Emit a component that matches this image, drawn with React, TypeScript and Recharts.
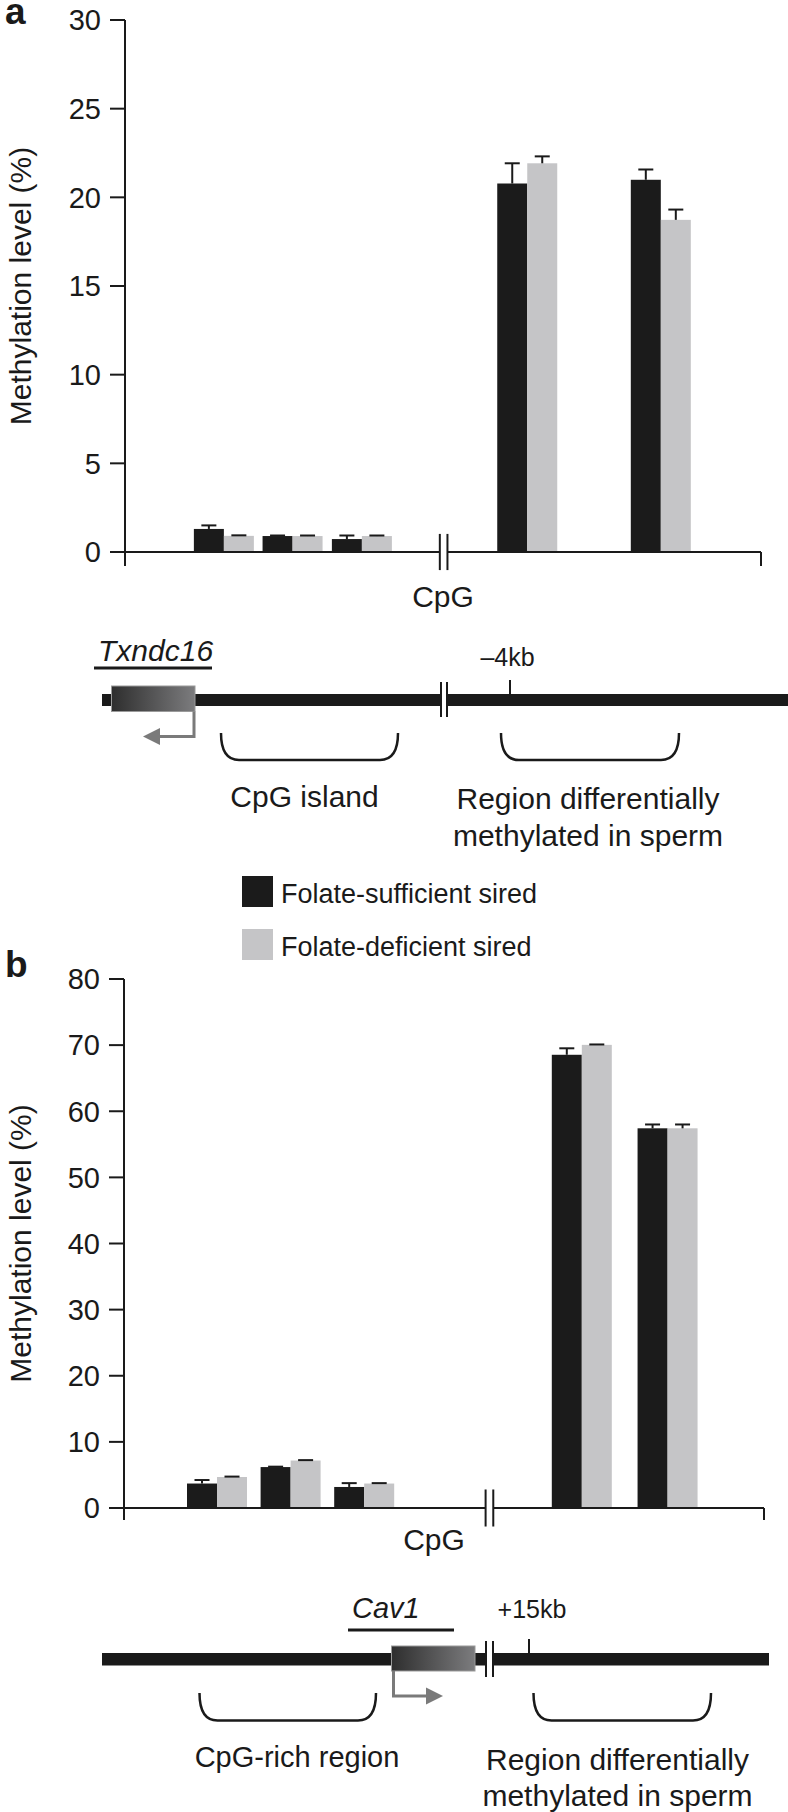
import React from 'react';
import { BarChart, Bar, XAxis, YAxis, ReferenceLine, Label } from 'recharts';

// ---------- series ----------
const seriesNames = ['Folate-sufficient sired', 'Folate-deficient sired'];
const seriesColors = ['#1b1b1b', '#c5c5c7'];
const yAxisTitle = 'Methylation level (%)';
const xAxisTitle = 'CpG';

// ---------- panel a : Txndc16 ----------
const aSites = ['CpG 1', 'CpG 2', 'CpG 3', 'CpG 4', 'CpG 5'];
const aSitePos = [15.6, 26.4, 37.3, 63.3, 84.3];
const aSufficient = [1.3, 0.9, 0.73, 20.78, 20.99];
const aSufficientErr = [0.2, 0.03, 0.2, 1.14, 0.58];
const aDeficient = [0.91, 0.9, 0.9, 21.92, 18.73];
const aDeficientErr = [0.03, 0.03, 0.03, 0.39, 0.58];
const aYTicks = [0, 5, 10, 15, 20, 25, 30];
const aBreak = [49.5, 50.7];

// ---------- panel b : Cav1 ----------
const bSites = ['CpG 1', 'CpG 2', 'CpG 3', 'CpG 4', 'CpG 5'];
const bSitePos = [14.5, 26.0, 37.5, 71.5, 84.9];
const bSufficient = [3.7, 6.19, 3.18, 68.54, 57.42];
const bSufficientErr = [0.53, 0.06, 0.58, 0.98, 0.58];
const bDeficient = [4.69, 7.18, 3.7, 70.04, 57.42];
const bDeficientErr = [0.06, 0.06, 0.06, 0.06, 0.58];
const bYTicks = [0, 10, 20, 30, 40, 50, 60, 70, 80];
const bBreak = [56.5, 57.7];

const INK = '#1a1a1a';
const FONT = '"Liberation Sans", Arial, Helvetica, sans-serif';

const buildRows = (sites: string[], pos: number[], s: number[], se: number[], d: number[], de: number[]) =>
  sites.map((site, i) => ({ site, pos: pos[i], suff: s[i], suffErr: se[i], def: d[i], defErr: de[i] }));

const aData = buildRows(aSites, aSitePos, aSufficient, aSufficientErr, aDeficient, aDeficientErr);
const bData = buildRows(bSites, bSitePos, bSufficient, bSufficientErr, bDeficient, bDeficientErr);

const makeShape = (valKey: string, errKey: string) => (props: any) => {
  const { x, y, width, height, fill, payload } = props;
  const val = payload[valKey];
  const err = payload[errKey];
  const pxPerUnit = val ? height / val : 0;
  const top = y - err * pxPerUnit;
  const cx = x + width / 2;
  return (
    <g>
      <rect x={x} y={y} width={width} height={height} fill={fill} />
      <line x1={cx} y1={y} x2={cx} y2={top} stroke={INK} strokeWidth={2} />
      <line x1={cx - 7.5} y1={top} x2={cx + 7.5} y2={top} stroke={INK} strokeWidth={2} />
    </g>
  );
};

const xLabel = (dx: number, dy: number) => (props: any) => {
  const vb = props.viewBox || {};
  return (
    <text x={vb.x + vb.width / 2 + dx} y={vb.y + dy} textAnchor="middle" fontSize={30} fill={INK}
      style={{ fontFamily: FONT, fontSize: 30 }}>
      {xAxisTitle}
    </text>
  );
};

type PanelProps = {
  data: any[];
  yMax: number;
  yTicks: number[];
  brk: number[];
  brkH: number;
  top: number;
  margin: any;
  yWidth: number;
  lblDx: number;
  lblDy: number;
  tickSize: number;
};

const Panel = ({ data, yMax, yTicks, brk, brkH, top, margin, yWidth, lblDx, lblDy, tickSize }: PanelProps) => (
  <div style={{ position: 'absolute', left: 0, top }}>
    <BarChart width={788} height={620} data={data} margin={margin} barGap={0} style={{ fontFamily: FONT }}>
      <XAxis
        dataKey="pos"
        type="number"
        domain={[0, 100]}
        allowDataOverflow
        ticks={[0, 100]}
        interval={0}
        tickFormatter={() => ''}
        axisLine={false}
        tickLine={{ stroke: INK, strokeWidth: 2 }}
        tickSize={tickSize}
        height={50}
      >
        <Label content={xLabel(lblDx, lblDy)} />
      </XAxis>
      <YAxis
        type="number"
        domain={[0, yMax]}
        ticks={yTicks}
        interval={0}
        width={yWidth}
        axisLine={{ stroke: INK, strokeWidth: 2 }}
        tickLine={{ stroke: INK, strokeWidth: 2 }}
        tickSize={15}
        tickMargin={9}
        tick={{ fontSize: 29, fill: INK, fontFamily: FONT }}
      />
      <Bar dataKey="suff" name={seriesNames[0]} fill={seriesColors[0]} barSize={30} isAnimationActive={false}
        shape={makeShape('suff', 'suffErr')} />
      <Bar dataKey="def" name={seriesNames[1]} fill={seriesColors[1]} barSize={30} isAnimationActive={false}
        shape={makeShape('def', 'defErr')} />
      <ReferenceLine segment={[{ x: 0, y: 0 }, { x: brk[0], y: 0 }]} stroke={INK} strokeWidth={2} ifOverflow="visible" />
      <ReferenceLine segment={[{ x: brk[1], y: 0 }, { x: 100, y: 0 }]} stroke={INK} strokeWidth={2} ifOverflow="visible" />
      <ReferenceLine segment={[{ x: brk[0], y: -brkH }, { x: brk[0], y: brkH }]} stroke={INK} strokeWidth={2} ifOverflow="visible" />
      <ReferenceLine segment={[{ x: brk[1], y: -brkH }, { x: brk[1], y: brkH }]} stroke={INK} strokeWidth={2} ifOverflow="visible" />
    </BarChart>
  </div>
);

const Bracket = ({ x1, x2, y1, y2 }: { x1: number; x2: number; y1: number; y2: number }) => (
  <path d={`M${x1},${y1} Q${x1},${y2} ${x1 + 18},${y2} H${x2 - 18} Q${x2},${y2} ${x2},${y1}`}
    fill="none" stroke={INK} strokeWidth={2.5} />
);

const VTitle = ({ cx, cy }: { cx: number; cy: number }) => (
  <text x={cx} y={cy} transform={`rotate(-90 ${cx} ${cy})`} textAnchor="middle" dominantBaseline="central"
    fontSize={30} fill={INK}>
    {yAxisTitle}
  </text>
);

const Overlay = () => (
  <svg width={788} height={1812} style={{ position: 'absolute', left: 0, top: 0, pointerEvents: 'none', fontFamily: FONT }}>
    <defs>
      <linearGradient id="geneGrad" x1="0" y1="0" x2="1" y2="0">
        <stop offset="0" stopColor="#2e2e2e" />
        <stop offset="1" stopColor="#7c7c7e" />
      </linearGradient>
    </defs>
    {/* panel letters */}
    <text x={5} y={24} fontSize={37} fontWeight="bold" fill={INK}>a</text>
    <text x={5} y={977} fontSize={37} fontWeight="bold" fill={INK}>b</text>

    {/* y-axis titles */}
    <VTitle cx={20.5} cy={286} />
    <VTitle cx={20} cy={1243.5} />

    {/* ---- diagram a ---- */}
    <text x={98} y={661} fontSize={30} fontStyle="italic" fill={INK}>Txndc16</text>
    <line x1={94} y1={668} x2={212} y2={668} stroke={INK} strokeWidth={3} />
    <rect x={102} y={694} width={700} height={12} fill={INK} />
    <rect x={442} y={680} width={4} height={40} fill="#fff" />
    <line x1={441} y1={682} x2={441} y2={717} stroke={INK} strokeWidth={2} />
    <line x1={447} y1={682} x2={447} y2={717} stroke={INK} strokeWidth={2} />
    <rect x={111.5} y={686} width={83.5} height={25.5} fill="url(#geneGrad)" stroke="#9a9a9a" strokeWidth={1} />
    <path d="M194,711.5 V736.5 H158" fill="none" stroke="#7a7a7a" strokeWidth={3} />
    <polygon points="143,736.5 160,728 160,745" fill="#7a7a7a" />
    <line x1={510} y1={680} x2={510} y2={694} stroke={INK} strokeWidth={2} />
    <text x={507.5} y={666} fontSize={25} textAnchor="middle" fill={INK}>–4kb</text>
    <Bracket x1={221} x2={398} y1={733} y2={760} />
    <Bracket x1={501} x2={679} y1={733} y2={760} />
    <text x={304.5} y={807} fontSize={30} textAnchor="middle" fill={INK}>CpG island</text>
    <text x={588} y={809} fontSize={30} textAnchor="middle" fill={INK}>Region differentially</text>
    <text x={588} y={846} fontSize={30} textAnchor="middle" fill={INK}>methylated in sperm</text>

    {/* ---- legend ---- */}
    {seriesNames.map((n, i) => (
      <g key={n}>
        <rect x={242} y={876 + i * 53} width={31} height={31} fill={seriesColors[i]} />
        <text x={281} y={902.5 + i * 53} fontSize={27} fill={INK}>{n}</text>
      </g>
    ))}

    {/* ---- diagram b ---- */}
    <text x={352} y={1618} fontSize={29} fontStyle="italic" fill={INK}>Cav1</text>
    <line x1={348} y1={1630} x2={454} y2={1630} stroke={INK} strokeWidth={3} />
    <rect x={102} y={1653} width={667} height={12.5} fill={INK} />
    <rect x={487} y={1638} width={5} height={42} fill="#fff" />
    <line x1={486} y1={1641} x2={486} y2={1677} stroke={INK} strokeWidth={2} />
    <line x1={493} y1={1641} x2={493} y2={1677} stroke={INK} strokeWidth={2} />
    <rect x={391.5} y={1646} width={83.5} height={25} fill="url(#geneGrad)" stroke="#9a9a9a" strokeWidth={1} />
    <path d="M393.5,1671 V1696 H427" fill="none" stroke="#7a7a7a" strokeWidth={3} />
    <polygon points="443,1696 426,1687.5 426,1704.5" fill="#7a7a7a" />
    <line x1={529} y1={1639} x2={529} y2={1653} stroke={INK} strokeWidth={2} />
    <text x={532} y={1618} fontSize={25} textAnchor="middle" fill={INK}>+15kb</text>
    <Bracket x1={199.5} x2={376} y1={1693} y2={1720.5} />
    <Bracket x1={533.5} x2={711} y1={1693} y2={1720.5} />
    <text x={297} y={1767} fontSize={29} textAnchor="middle" fill={INK}>CpG-rich region</text>
    <text x={617.5} y={1770} fontSize={30} textAnchor="middle" fill={INK}>Region differentially</text>
    <text x={617.5} y={1806} fontSize={30} textAnchor="middle" fill={INK}>methylated in sperm</text>
  </svg>
);

export default function App() {
  return (
    <div style={{ position: 'absolute', left: 0, top: 0, width: 788, height: 1812, background: '#fff', fontFamily: FONT, overflow: 'hidden' }}>
      <Panel data={aData} yMax={30} yTicks={aYTicks} brk={aBreak} brkH={1.02} top={0}
        margin={{ top: 20, right: 27, bottom: 18, left: 0 }} yWidth={125} lblDx={0} lblDy={54.5} tickSize={14} />
      <Panel data={bData} yMax={80} yTicks={bYTicks} brk={bBreak} brkH={2.8} top={958}
        margin={{ top: 21, right: 24, bottom: 20, left: 0 }} yWidth={124} lblDx={-10} lblDy={42} tickSize={12} />
      <Overlay />
    </div>
  );
}
